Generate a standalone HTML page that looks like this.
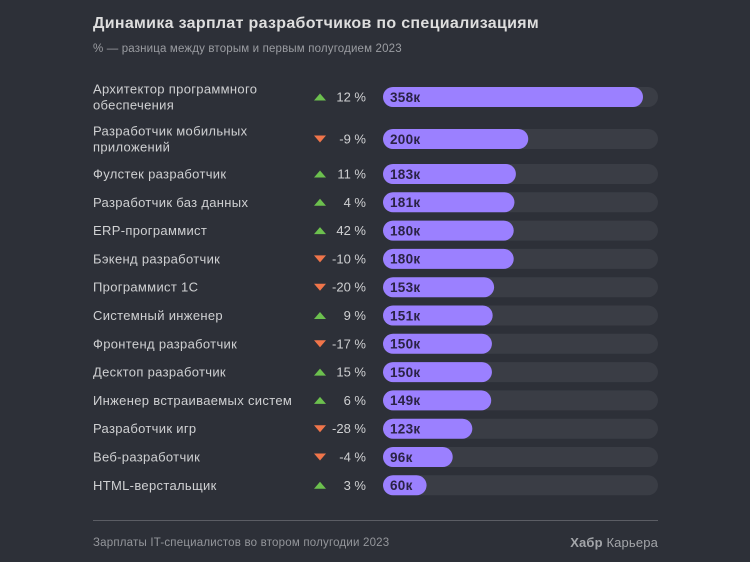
<!DOCTYPE html>
<html lang="ru">
<head>
<meta charset="utf-8">
<title>Динамика зарплат разработчиков по специализациям</title>
<style>
html,body{margin:0;padding:0;background:#2d3038;}
svg{display:block;}
text{font-family:"Liberation Sans","DejaVu Sans",sans-serif;}
</style>
</head>
<body>
<svg id="chart" xmlns="http://www.w3.org/2000/svg" width="750" height="562" viewBox="0 0 750 562">
  <rect width="750" height="562" fill="#2d3038"/>
  <text x="93" y="28" font-size="16" font-weight="700" fill="#dedede" letter-spacing="0.31">Динамика зарплат разработчиков по специализациям</text>
  <text x="93" y="52" font-size="11.5" fill="#9b9da2" letter-spacing="0.16">% — разница между вторым и первым полугодием 2023</text>
  <g id="rows"></g>
  <line x1="93" y1="520.5" x2="658" y2="520.5" stroke="#5b5d64" stroke-width="1"/>
  <text x="93" y="546" font-size="11.5" fill="#94969b" letter-spacing="0.2">Зарплаты IT-специалистов во втором полугодии 2023</text>
  <text x="658" y="547" font-size="13" text-anchor="end" fill="#a3a5a9" letter-spacing="0.15"><tspan font-weight="700">Хабр</tspan> Карьера</text>
</svg>
<script>
const categories = [
  ["Архитектор программного", "обеспечения"],
  ["Разработчик мобильных", "приложений"],
  ["Фулстек разработчик"],
  ["Разработчик баз данных"],
  ["ERP-программист"],
  ["Бэкенд разработчик"],
  ["Программист 1С"],
  ["Системный инженер"],
  ["Фронтенд разработчик"],
  ["Десктоп разработчик"],
  ["Инженер встраиваемых систем"],
  ["Разработчик игр"],
  ["Веб-разработчик"],
  ["HTML-верстальщик"]
];
const salaries = [358, 200, 183, 181, 180, 180, 153, 151, 150, 150, 149, 123, 96, 60];
const changes = [12, -9, 11, 4, 42, -10, -20, 9, -17, 15, 6, -28, -4, 3];

const NS = "http://www.w3.org/2000/svg";
const rowsGroup = document.getElementById("rows");
const barX = 383;
const trackWidth = 275;
const barHeight = 20;
function xScale(v) { return v * 260 / 358; }
function make(tag, attrs, parent) {
  const el = document.createElementNS(NS, tag);
  for (const k in attrs) el.setAttribute(k, attrs[k]);
  parent.appendChild(el);
  return el;
}

let cy = 97;
categories.forEach(function (lines, i) {
  const g = make("g", {}, rowsGroup);
  
  

  lines.forEach(function (line, j) {
    const top = cy - (lines.length - 1) * 8;
    const label = make("text", { x: 93, y: top + j * 16 + 4.5, "font-size": 13, fill: "#cfd0d2", "letter-spacing": 0.32 }, g);
    
    
    label.textContent = line;
  });

  const up = changes[i] >= 0;
  const pts = up
    ? [[314, cy + 3.5], [326, cy + 3.5], [320, cy - 3.5]]
    : [[314, cy - 3.5], [326, cy - 3.5], [320, cy + 3.5]];
  const arrow = make("polygon", { points: pts.map(function (p) { return p.join(","); }).join(" "), fill: up ? "#6cc04e" : "#f0754a" }, g);
  
  

  const pct = make("text", { x: 366, y: cy + 4.5, "font-size": 13, "text-anchor": "end", fill: "#cfd0d2" }, g);
  
  
  pct.textContent = changes[i] + " %";

  const track = make("rect", { x: barX, y: cy - barHeight / 2, width: trackWidth, height: barHeight, rx: 10, fill: "#3a3d45" }, g);
  
  

  const bar = make("rect", { x: barX, y: cy - barHeight / 2, width: xScale(salaries[i]), height: barHeight, rx: 10, fill: "#9b80ff" }, g);
  
  

  const val = make("text", { x: barX + 7, y: cy + 4.8, "font-size": 13.5, "font-weight": 700, fill: "#2a2245", "letter-spacing": 0.3 }, g);
  
  
  val.textContent = salaries[i] + "к";

  cy += lines.length > 1 ? (i === 0 ? 42 : 35) : 28.3;
});
</script>
</body>
</html>
